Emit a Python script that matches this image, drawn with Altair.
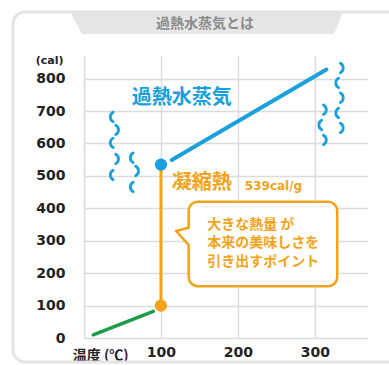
import altair as alt
import pandas as pd

BLUE = "#1AA0DA"
ORANGE = "#F2A31B"
GREEN = "#1E9A4B"
GRID = "#DCDCDC"
DARK = "#222222"
JP = "Noto Sans CJK JP"
LAT = "DejaVu Sans"

# ---- data (chart units: x = ℃, y = cal) ----
water_x = [12, 90]
water_y = [10, 82]
latent_x = [100, 100]
latent_y = [100, 535]
steam_x = [114, 315]
steam_y = [549, 828]
dot_x = [100, 100]
dot_y = [100, 535]

x_ticks = [0, 100, 200, 300]
y_ticks = [0, 100, 200, 300, 400, 500, 600, 700, 800]

title_text = "過熱水蒸気とは"
steam_label = "過熱水蒸気"
latent_label = "凝縮熱"
latent_value = "539cal/g"
callout_lines = ["大きな熱量 が", "本来の美味しさを", "引き出すポイント"]
callout_line_y = [349, 293, 235]
callout_box = dict(x=[136], x2=[329], y=[160], y2=[420])
tail_x = [136, 119.5, 136]
tail_y = [340, 330, 287]

# steam squiggles: arc direction, position
sq_dir = ["L", "R", "L", "R", "L",
          "L", "R", "L",
          "R", "L", "R", "L", "R",
          "R", "L", "R"]
sq_x = [36, 43, 36, 43, 36,
        62, 69, 62,
        335, 329, 335, 329, 335,
        313, 307, 313]
sq_y = [682, 642, 602, 552, 503,
        556, 515, 466,
        833, 787, 741, 694, 648,
        704, 657, 611]

ARC_L = "M0.3,-1 C-0.5,-0.55 -0.5,0.55 0.3,1"
ARC_R = "M-0.3,-1 C0.5,-0.55 0.5,0.55 -0.3,1"

X = alt.Scale(domain=[0, 369], nice=False, zero=False)
Y = alt.Scale(domain=[0, 873], nice=False, zero=False)

xax = alt.Axis(values=x_ticks, grid=True, gridColor=GRID, gridWidth=1.5, domain=False, ticks=False,
               labelExpr="datum.value == 0 ? '' : datum.label", labelFont=LAT, labelFontWeight="bold",
               labelFontSize=14, labelColor=DARK, labelPadding=7, labelOverlap=False,
               title="温度 (℃)", titleFont=JP, titleFontWeight="bold", titleFontSize=14, titleColor=DARK,
               titleAlign="right", titleBaseline="middle", titleX=44, titleY=17, titleAnchor="start")
yax = alt.Axis(values=y_ticks, grid=True, gridColor=GRID, gridWidth=1.5, domain=False, ticks=False,
               labelFont=LAT, labelFontWeight="bold", labelFontSize=14, labelColor=DARK, labelPadding=19,
               labelOverlap=False,
               title="(cal)", titleFont=LAT, titleFontWeight="bold", titleFontSize=11, titleColor=DARK,
               titleAngle=0, titleAlign="right", titleBaseline="middle", titleX=-21, titleY=5)


def XQ(f="x"):
    return alt.X(f + ":Q", scale=X, axis=xax)


def YQ(f="y"):
    return alt.Y(f + ":Q", scale=Y, axis=yax)


one = pd.DataFrame({"a": [0]})

card = alt.Chart(one).mark_rect(
    fillOpacity=0, stroke="#E4E4E4", strokeWidth=3, cornerRadius=12
).encode(x=alt.value(-71), x2=alt.value(345), y=alt.value(-43), y2=alt.value(307))

tab = alt.Chart(one).mark_point(
    shape="M-1,-0.0806 L1,-0.0806 L0.934,0.0806 L-0.912,0.0806 Z",
    filled=True, color="#E6E6E6", opacity=1, size=74529, strokeWidth=0
).encode(x=alt.value(122.5), y=alt.value(-32))

title = alt.Chart(pd.DataFrame({"t": [title_text]})).mark_text(
    font=JP, fontWeight="bold", fontSize=14, color="#8A8A8A", align="center", baseline="middle"
).encode(x=alt.value(121), y=alt.value(-31), text="t:N")

water = alt.Chart(pd.DataFrame({"x": water_x, "y": water_y})).mark_line(
    color=GREEN, strokeWidth=3.5, strokeCap="round"
).encode(x=XQ(), y=YQ())

latent = alt.Chart(pd.DataFrame({"x": latent_x, "y": latent_y})).mark_line(
    color=ORANGE, strokeWidth=3
).encode(x=XQ(), y=YQ())

steam = alt.Chart(pd.DataFrame({"x": steam_x, "y": steam_y})).mark_line(
    color=BLUE, strokeWidth=4, strokeCap="round"
).encode(x=XQ(), y=YQ())

dots = alt.Chart(pd.DataFrame({"x": dot_x, "y": dot_y, "k": ["water", "steam"]})).mark_circle(
    size=150, opacity=1
).encode(x=XQ(), y=YQ(),
         color=alt.Color("k:N", scale=alt.Scale(domain=["water", "steam"], range=[ORANGE, BLUE]), legend=None))

box = alt.Chart(pd.DataFrame(callout_box)).mark_rect(
    fill="white", stroke=ORANGE, strokeWidth=2.5, cornerRadius=9
).encode(x=XQ(), x2="x2:Q", y=YQ(), y2="y2:Q")

cover = alt.Chart(pd.DataFrame({"x": [tail_x[0], tail_x[2]], "y": [tail_y[0] - 3, tail_y[2] + 3]})).mark_line(
    color="white", strokeWidth=5
).encode(x=XQ(), y=YQ())

tail = alt.Chart(pd.DataFrame({"x": tail_x, "y": tail_y, "o": [0, 1, 2]})).mark_line(
    color=ORANGE, strokeWidth=2.5, strokeJoin="round"
).encode(x=XQ(), y=YQ(), order="o:Q")

callout = alt.Chart(pd.DataFrame({"t": callout_lines, "y": callout_line_y, "x": [160] * 3})).mark_text(
    font=JP, fontWeight="bold", fontSize=14, color=ORANGE, align="left", baseline="middle"
).encode(x=XQ(), y=YQ(), text="t:N")

labels_big = alt.Chart(pd.DataFrame({"t": [steam_label, latent_label], "x": [62, 114], "y": [741, 478],
                                     "k": ["steam", "latent"]})).mark_text(
    font=JP, fontWeight="bold", fontSize=20, align="left", baseline="middle"
).encode(x=XQ(), y=YQ(), text="t:N",
         color=alt.Color("k:N", scale=alt.Scale(domain=["steam", "latent"], range=[BLUE, ORANGE]), legend=None))

label_val = alt.Chart(pd.DataFrame({"t": [latent_value], "x": [209], "y": [469]})).mark_text(
    font=LAT, fontWeight="bold", fontSize=12, color=ORANGE, align="left", baseline="middle"
).encode(x=XQ(), y=YQ(), text="t:N")

squig = alt.Chart(pd.DataFrame({"d": sq_dir, "x": sq_x, "y": sq_y})).mark_point(
    filled=False, color=BLUE, strokeWidth=2.8, strokeCap="round", opacity=1, size=90
).encode(x=XQ(), y=YQ(),
         shape=alt.Shape("d:N", scale=alt.Scale(domain=["L", "R"], range=[ARC_L, ARC_R]), legend=None))

chart = alt.layer(
    card, tab, title, water, latent, steam, box, cover, tail, dots, callout, labels_big, label_val, squig
).resolve_scale(color="independent").properties(
    width=284, height=283,
    autosize=alt.AutoSizeParams(type="none"),
    padding={"left": 84, "top": 55, "right": 21, "bottom": 27},
    background="white",
).configure_view(stroke=None)

chart.save("out.html", embed_options={"renderer": "svg", "actions": False})
